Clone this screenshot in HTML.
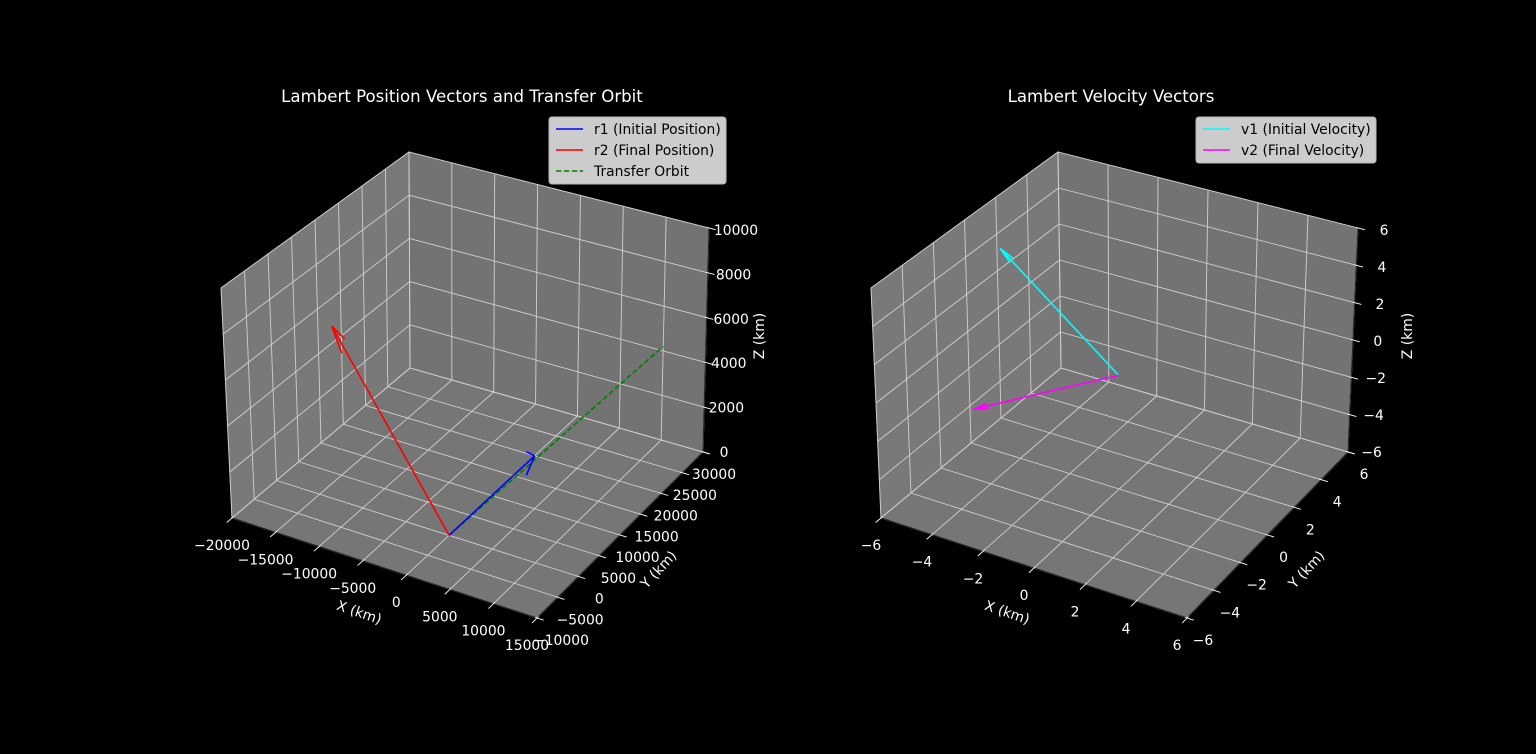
<!DOCTYPE html>
<html><head><meta charset="utf-8"><title>Lambert vectors</title>
<style>
html,body{margin:0;padding:0;background:#000;}
svg{display:block;font-family:"DejaVu Sans","Liberation Sans",sans-serif;}
</style></head>
<body>
<svg id="fig" width="1536" height="754" viewBox="0 0 1536 754" xmlns="http://www.w3.org/2000/svg">
<rect x="0" y="0" width="1536" height="754" fill="#000"/>
<g id="ax-left"></g>
<g id="ax-right"></g>
<text x="462" y="102" fill="#fff" font-size="16.6" text-anchor="middle">Lambert Position Vectors and Transfer Orbit</text>
<text x="1111" y="102" fill="#fff" font-size="16.6" text-anchor="middle">Lambert Velocity Vectors</text>
<g>
<rect x="549" y="117" width="177" height="67" rx="3" fill="#cccccc" stroke="#b8b8b8"/>
<line x1="556" y1="129" x2="583" y2="129" stroke="#0000ff" stroke-width="1.5"/>
<text x="594" y="134" font-size="13.9" fill="#000">r1 (Initial Position)</text>
<line x1="556" y1="150" x2="583" y2="150" stroke="#ff0000" stroke-width="1.5"/>
<text x="594" y="155" font-size="13.9" fill="#000">r2 (Final Position)</text>
<line x1="556" y1="171" x2="583" y2="171" stroke="#008000" stroke-width="1.5" stroke-dasharray="5.5,2.4"/>
<text x="594" y="176" font-size="13.9" fill="#000">Transfer Orbit</text>
</g>
<g>
<rect x="1196" y="117" width="180" height="46" rx="3" fill="#cccccc" stroke="#b8b8b8"/>
<line x1="1203" y1="129" x2="1230" y2="129" stroke="#00ffff" stroke-width="1.5"/>
<text x="1241" y="134" font-size="13.9" fill="#000">v1 (Initial Velocity)</text>
<line x1="1203" y1="150" x2="1230" y2="150" stroke="#ff00ff" stroke-width="1.5"/>
<text x="1241" y="155" font-size="13.9" fill="#000">v2 (Final Velocity)</text>
</g>
</svg>
<script>
// ---- data ----
const r1 = [0, 20000, 0];
const r2 = [-13000, 0, 7600];
const orbitX = [0, 10000];
const orbitY = [0, 30000];
const orbitZ = [0, 4200];
const v1 = [-6, 2.2, 3.1];
const v2 = [-4, -3, -1.4];
const leftXTicks = [-20000, -15000, -10000, -5000, 0, 5000, 10000, 15000];
const leftYTicks = [-10000, -5000, 0, 5000, 10000, 15000, 20000, 25000, 30000];
const leftZTicks = [0, 2000, 4000, 6000, 8000, 10000];
const rightXTicks = [-6, -4, -2, 0, 2, 4, 6];
const rightYTicks = [-6, -4, -2, 0, 2, 4, 6];
const rightZTicks = [-6, -4, -2, 0, 2, 4, 6];

const NS = 'http://www.w3.org/2000/svg';
function mk(parent, tag, attrs) {
  const e = document.createElementNS(NS, tag);
  for (const k in attrs) e.setAttribute(k, attrs[k]);
  parent.appendChild(e);
  return e;
}
function fmt(v) { return v < 0 ? '\u2212' + Math.abs(v) : String(v); }

function makeAxes(cfg) {
  const lerp = (p, q, t) => [p[0] + (q[0] - p[0]) * t, p[1] + (q[1] - p[1]) * t];
  function bil(a, b, c, d, u, v) { return lerp(lerp(a, b, u), lerp(d, c, u), v); }
  function P(u, v, w) {
    const f = bil(cfg.A, cfg.B, cfg.C, cfg.D, u, v);
    const t = bil(cfg.A2, cfg.B2, cfg.C2, cfg.D2, u, v);
    return lerp(f, t, w);
  }
  const nx = x => (x - cfg.xlim[0]) / (cfg.xlim[1] - cfg.xlim[0]);
  const ny = y => (y - cfg.ylim[0]) / (cfg.ylim[1] - cfg.ylim[0]);
  const nz = z => (z - cfg.zlim[0]) / (cfg.zlim[1] - cfg.zlim[0]);
  const proj = (x, y, z) => P(nx(x), ny(y), nz(z));
  return { P, proj, nx, ny, nz };
}

function drawAxes(g, cfg, ax, xt, yt, zt, pre) {
  const P = ax.P;
  const pts = a => a.map(p => p[0].toFixed(1) + ',' + p[1].toFixed(1)).join(' ');
  let e;
  e = mk(g, 'polygon', { points: pts([P(0,0,0), P(0,1,0), P(0,1,1), P(0,0,1)]), fill: '#797979', stroke: '#8a8a8a', 'stroke-width': 1 });
  
  
  e = mk(g, 'polygon', { points: pts([P(0,1,0), P(1,1,0), P(1,1,1), P(0,1,1)]), fill: '#737373', stroke: '#8a8a8a', 'stroke-width': 1 });
  
  
  e = mk(g, 'polygon', { points: pts([P(0,0,0), P(1,0,0), P(1,1,0), P(0,1,0)]), fill: '#767676', stroke: '#8a8a8a', 'stroke-width': 1 });
  
  
  const gs = { stroke: '#cfcfcf', 'stroke-width': 0.9 };
  const line = (p, q, a) => mk(g, 'line', Object.assign({ x1: p[0], y1: p[1], x2: q[0], y2: q[1] }, a));
  xt.forEach(t => {
    const u = ax.nx(t);
    e = line(P(u,0,0), P(u,1,0), gs);
    
    
    e = line(P(u,1,0), P(u,1,1), gs);
    
    
  });
  yt.forEach(t => {
    const v = ax.ny(t);
    e = line(P(0,v,0), P(1,v,0), gs);
    
    
    e = line(P(0,v,0), P(0,v,1), gs);
    
    
  });
  zt.forEach(t => {
    const w = ax.nz(t);
    e = line(P(0,0,w), P(0,1,w), gs);
    
    
    e = line(P(0,1,w), P(1,1,w), gs);
    
    
  });
  const al = { stroke: '#262626', 'stroke-width': 1.2 };
  e = line(P(0,0,0), P(1,0,0), al);
  
  
  e = line(P(1,0,0), P(1,1,0), al);
  
  
  e = line(P(1,1,0), P(1,1,1), al);
  
  
  const tk = { stroke: '#ffffff', 'stroke-width': 0.9 };
  function tick(p, q) {
    const dx = p[0] - q[0], dy = p[1] - q[1], L = Math.hypot(dx, dy);
    return [[p[0] - dx / L * 2, p[1] - dy / L * 2], [p[0] + dx / L * 7, p[1] + dy / L * 7]];
  }
  const ts = { fill: '#ffffff', 'font-size': 13.9, 'text-anchor': 'middle', 'dominant-baseline': 'central' };
  xt.forEach(t => {
    const u = ax.nx(t), p = P(u,0,0), tt = tick(p, P(u,1,0));
    e = line(tt[0], tt[1], tk);
    
    
    e = mk(g, 'text', Object.assign({ x: p[0] + cfg.xlab[0], y: p[1] + cfg.xlab[1] }, ts));
    e.textContent = fmt(t);
    
    
  });
  yt.forEach(t => {
    const v = ax.ny(t), p = P(1,v,0), tt = tick(p, P(0,v,0));
    e = line(tt[0], tt[1], tk);
    
    
    e = mk(g, 'text', Object.assign({ x: p[0] + cfg.ylab[0] + (cfg.ylab[1] - cfg.ylab[0]) * v, y: p[1] + 23 }, ts));
    e.textContent = fmt(t);
    
    
  });
  zt.forEach(t => {
    const w = ax.nz(t), p = P(1,1,w), tt = tick(p, P(0,1,w));
    e = line(tt[0], tt[1], tk);
    
    
    e = mk(g, 'text', Object.assign({ x: p[0] + cfg.zlab[0] + (cfg.zlab[1] - cfg.zlab[0]) * w, y: p[1] + 1 + 2 * w }, ts));
    e.textContent = fmt(t);
    
    
  });
  const ls = { fill: '#ffffff', 'font-size': 13.9, 'text-anchor': 'middle', 'dominant-baseline': 'central' };
  e = mk(g, 'text', Object.assign({ x: cfg.xt[0], y: cfg.xt[1], transform: 'rotate(19 ' + cfg.xt[0] + ' ' + cfg.xt[1] + ')' }, ls));
  e.textContent = 'X (km)';
  
  
  e = mk(g, 'text', Object.assign({ x: cfg.yt[0], y: cfg.yt[1], transform: 'rotate(-47 ' + cfg.yt[0] + ' ' + cfg.yt[1] + ')' }, ls));
  e.textContent = 'Y (km)';
  
  
  e = mk(g, 'text', Object.assign({ x: cfg.zt[0], y: cfg.zt[1], transform: 'rotate(-90 ' + cfg.zt[0] + ' ' + cfg.zt[1] + ')' }, ls));
  e.textContent = 'Z (km)';
  
  
}

function quiver(g, ax, vec, color, name) {
  const o = ax.proj(0, 0, 0), t = ax.proj(vec[0], vec[1], vec[2]);
  let e = mk(g, 'line', { x1: o[0], y1: o[1], x2: t[0], y2: t[1], stroke: color, 'stroke-width': 1.6 });
  
  
  const n = Math.hypot(vec[0], vec[1]);
  const xp = n ? vec[1] / n : 0, yp = n ? -vec[0] / n : 0;
  const c = Math.cos(Math.PI / 12);
  [1, -1].forEach(sg => {
    const s = sg * Math.sin(Math.PI / 12);
    const R = [[c + xp * xp * (1 - c), xp * yp * (1 - c), yp * s],
               [yp * xp * (1 - c), c + yp * yp * (1 - c), -xp * s],
               [-yp * s, xp * s, c]];
    const d = R.map(r => r[0] * vec[0] + r[1] * vec[1] + r[2] * vec[2]);
    const h = ax.proj(vec[0] - 0.1 * d[0], vec[1] - 0.1 * d[1], vec[2] - 0.1 * d[2]);
    e = mk(g, 'line', { x1: t[0], y1: t[1], x2: h[0], y2: h[1], stroke: color, 'stroke-width': 1.6 });
    
    
  });
}

const cfgL = { A: [232,518], B: [537,618], C: [703,452], D: [410,368],
  A2: [221,288], B2: [535,378], C2: [709,228], D2: [409,152],
  xlim: [-20000, 15000], ylim: [-10000, 30000], zlim: [0, 10000],
  xlab: [-10, 28], ylab: [24, 11], zlab: [21, 27],
  xt: [359, 613], yt: [659, 570], zt: [760, 336] };
const cfgR = { A: [881,518], B: [1187,618], C: [1348,452], D: [1061,368],
  A2: [871,288], B2: [1185,378], C2: [1358,228], D2: [1058,152],
  xlim: [-6, 6], ylim: [-6, 6], zlim: [-6, 6],
  xlab: [-10, 28], ylab: [16, 16], zlab: [23.6, 26],
  xt: [1007, 613], yt: [1307, 570], zt: [1408, 336] };

const gL = document.getElementById('ax-left');
const axL = makeAxes(cfgL);
drawAxes(gL, cfgL, axL, leftXTicks, leftYTicks, leftZTicks, 'left');
const oPts = orbitX.map((x, i) => axL.proj(x, orbitY[i], orbitZ[i]).map(v => v.toFixed(1)).join(',')).join(' ');
let orb = mk(gL, 'polyline', { points: oPts, fill: 'none', stroke: '#008000', 'stroke-width': 1.6, 'stroke-dasharray': '5.5,2.4' });


quiver(gL, axL, r1, '#0000ff', 'r1-vector');
quiver(gL, axL, r2, '#ff0000', 'r2-vector');

const gR = document.getElementById('ax-right');
const axR = makeAxes(cfgR);
drawAxes(gR, cfgR, axR, rightXTicks, rightYTicks, rightZTicks, 'right');
quiver(gR, axR, v1, '#00ffff', 'v1-vector');
quiver(gR, axR, v2, '#ff00ff', 'v2-vector');
</script>
</body></html>
